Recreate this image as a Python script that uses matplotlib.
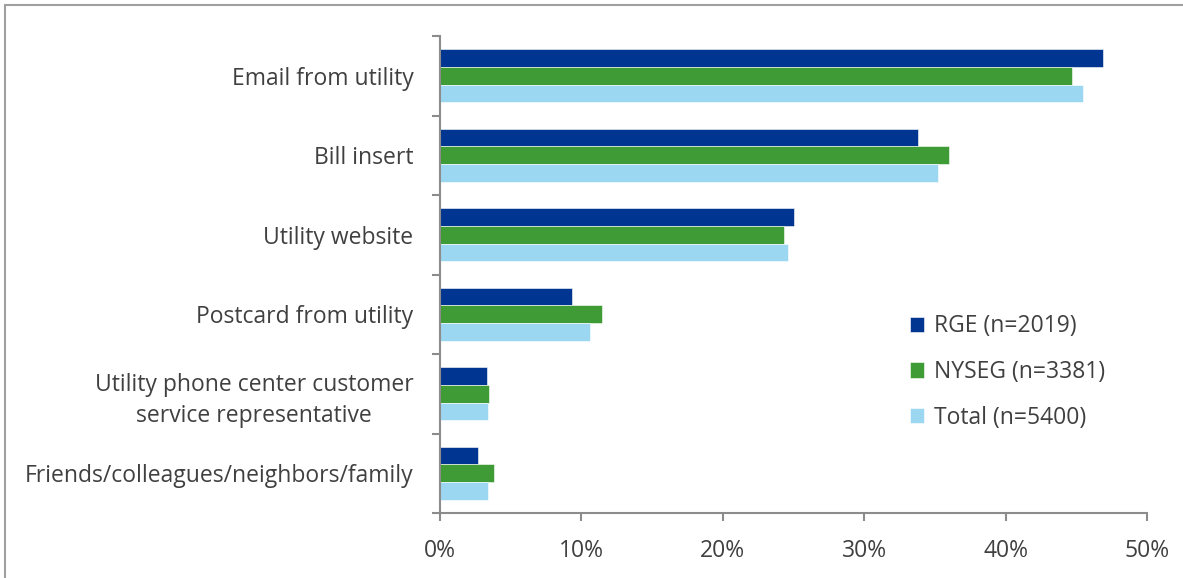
import numpy as np
import matplotlib.pyplot as plt
from matplotlib.patches import Rectangle
from matplotlib.ticker import FuncFormatter, FixedLocator

# Sources of program awareness, share of respondents by utility
categories = [
    "Email from utility",
    "Bill insert",
    "Utility website",
    "Postcard from utility",
    "Utility phone center customer\nservice representative",
    "Friends/colleagues/neighbors/family",
]
rge = [46.9, 33.8, 25.0, 9.3, 3.3, 2.7]
nyseg = [44.7, 36.0, 24.3, 11.45, 3.5, 3.8]
total = [45.5, 35.2, 24.6, 10.6, 3.4, 3.4]

series_labels = ["RGE (n=2019)", "NYSEG (n=3381)", "Total (n=5400)"]
colors = ["#003591", "#3e9b35", "#9bd7f0"]

plt.rcParams["font.family"] = ["Open Sans", "DejaVu Sans"]
text_color = "#404040"
axis_color = "#8c8c8c"
fsize = 16.5

fig = plt.figure(figsize=(11.83, 5.78), dpi=100)
ax = fig.add_axes([440 / 1183, 1 - 513 / 578, 707 / 1183, 477 / 578])

n = len(categories)
y = np.arange(n)
bar_h = 0.222
for i, (vals, col, lab) in enumerate(zip([rge, nyseg, total], colors, series_labels)):
    ax.barh(y + (i - 1) * bar_h, vals, height=bar_h, color=col, label=lab,
            edgecolor="white", linewidth=0.4)

ax.set_xlim(0, 50)
ax.set_ylim(n - 0.5, -0.5)
ax.xaxis.set_major_locator(FixedLocator(np.arange(0, 51, 10)))
ax.xaxis.set_major_formatter(FuncFormatter(lambda v, p: f"{v:.0f}%"))

# category labels sit between boundary ticks
ax.set_yticks(np.arange(-0.5, n, 1.0))
ax.set_yticklabels([])
ax.set_yticks(y, minor=True)
ax.set_yticklabels(categories, minor=True, fontsize=fsize, color=text_color,
                   multialignment="center", linespacing=1.4)
ax.tick_params(axis="y", which="minor", length=0, pad=19)
ax.tick_params(axis="y", which="major", length=6, width=1.5, color=axis_color)
ax.tick_params(axis="x", length=6, width=1.5, color=axis_color,
               labelsize=fsize, labelcolor=text_color, pad=13)

for side in ["top", "right"]:
    ax.spines[side].set_visible(False)
for side in ["left", "bottom"]:
    ax.spines[side].set_color(axis_color)
    ax.spines[side].set_linewidth(1.5)

ax.legend(loc="upper left", bbox_to_anchor=(0.635, 0.46), frameon=False,
          fontsize=fsize, labelcolor=text_color, handlelength=0.65,
          handleheight=0.65, handletextpad=0.4, labelspacing=0.95)

# outer frame of the chart area
fig.patches.append(Rectangle((5 / 1183, -0.1), 1.2, 1 - 5 / 578 + 0.1,
                             transform=fig.transFigure, fill=False,
                             edgecolor="#a0a0a0", linewidth=1.5))

fig.savefig("out.png", dpi=100)
